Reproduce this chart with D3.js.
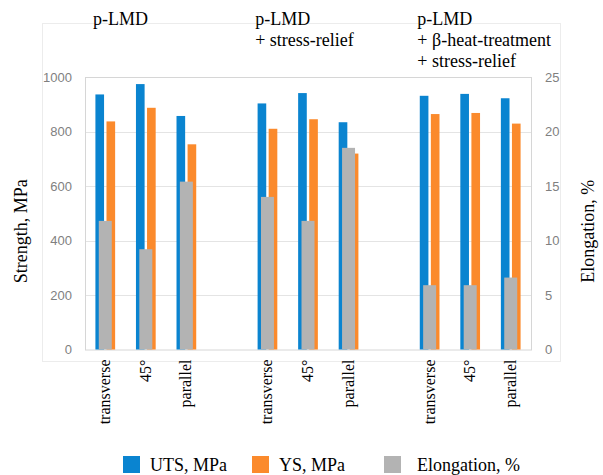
<!DOCTYPE html>
<html>
<head>
<meta charset="utf-8">
<script src="https://cdnjs.cloudflare.com/ajax/libs/d3/7.8.5/d3.min.js"></script>
</head>
<body style="margin:0">
<div id="chart"></div>
<script>
// ---- data ----
var directions = ["transverse", "45°", "parallel"];
var groupTitles = [
  ["p-LMD"],
  ["p-LMD", "+ stress-relief"],
  ["p-LMD", "+ β-heat-treatment", "+ stress-relief"]
];
var uts   = [936, 974, 857, 903, 941, 834, 931, 938, 922];
var ys    = [837, 887, 753, 810, 845, 719, 864, 868, 829];
var elong = [11.8, 9.2, 15.4, 14.0, 11.8, 18.5, 5.9, 5.9, 6.6];
var strengthTicks = [0, 200, 400, 600, 800, 1000];
var elongTicks = [0, 5, 10, 15, 20, 25];
var legendItems = ["UTS, MPa", "YS, MPa", "Elongation, %"];
var colors = ["#0a84d0", "#fb8a2c", "#b3b3b3"];

// ---- layout ----
var W = 603, H = 475;
var plot = { left: 85, right: 531, top: 77, bottom: 349.5 };

var svg = d3.select("#chart").append("svg")
  .attr("width", W).attr("height", H)
  .attr("font-family", "Liberation Serif");

// slots: 3 groups of 3 with one empty slot between groups
var rows = [];
groupTitles.forEach(function (t, g) {
  directions.forEach(function (d, k) {
    var i = g * 3 + k;
    rows.push({ slot: g * 4 + k, group: g, name: d, uts: uts[i], ys: ys[i], el: elong[i] });
  });
});
var nSlots = groupTitles.length * 4 - 1;

var x = d3.scaleBand().domain(d3.range(nSlots)).range([plot.left, plot.right]);
var xs = d3.scaleBand().domain(["uts", "ys"]).range([0, x.bandwidth()])
  .paddingInner(0.22).paddingOuter(0.94);
var yL = d3.scaleLinear().domain([0, 1000]).range([plot.bottom, plot.top]);
var yR = d3.scaleLinear().domain([0, 25]).range([plot.bottom, plot.top]);

// outer chart frame (very faint)
svg.append("rect")
  .attr("x", 42.5).attr("y", 23.5).attr("width", 518).attr("height", 338)
  .attr("fill", "none").attr("stroke", "#ececec");

// gridlines
svg.append("g").selectAll("line").data(strengthTicks.slice(1, -1)).join("line")
  .attr("x1", plot.left).attr("x2", plot.right)
  .attr("y1", function (d) { return Math.round(yL(d)) + 0.5; })
  .attr("y2", function (d) { return Math.round(yL(d)) + 0.5; })
  .attr("stroke", "#e4e4e4");

// plot frame
svg.append("rect")
  .attr("x", plot.left + 0.5).attr("y", plot.top + 0.5)
  .attr("width", plot.right - plot.left).attr("height", plot.bottom - plot.top)
  .attr("fill", "none").attr("stroke", "#d6d6d6");

// bars
var bar = svg.append("g").selectAll("g").data(rows).join("g")
  .attr("transform", function (d) { return "translate(" + x(d.slot) + ",0)"; });

bar.append("rect")
  .attr("x", xs("uts")).attr("width", xs.bandwidth())
  .attr("y", function (d) { return yL(d.uts); })
  .attr("height", function (d) { return yL(0) - yL(d.uts); })
  .attr("fill", colors[0]);

bar.append("rect")
  .attr("x", xs("ys")).attr("width", xs.bandwidth())
  .attr("y", function (d) { return yL(d.ys); })
  .attr("height", function (d) { return yL(0) - yL(d.ys); })
  .attr("fill", colors[1]);

var gw = x.bandwidth() * 0.32;
bar.append("rect")
  .attr("x", x.bandwidth() / 2 - gw / 2).attr("width", gw)
  .attr("y", function (d) { return yR(d.el); })
  .attr("height", function (d) { return yR(0) - yR(d.el); })
  .attr("fill", colors[2]);

// axes
function styleAxis(g) {
  g.attr("font-family", "Liberation Sans").attr("font-size", 13);
  g.select(".domain").remove();
  g.selectAll(".tick text").attr("fill", "#7f7f7f");
}
svg.append("g").attr("transform", "translate(" + (plot.left - 13) + ",0)")
  .call(d3.axisLeft(yL).tickValues(strengthTicks).tickFormat(d3.format("d")).tickSize(0).tickPadding(0))
  .call(styleAxis);

svg.append("g").attr("transform", "translate(" + (plot.right + 14) + ",0)")
  .call(d3.axisRight(yR).tickValues(elongTicks).tickFormat(d3.format("d")).tickSize(0).tickPadding(0))
  .call(styleAxis);

// category labels, rotated
svg.append("g").selectAll("text").data(rows).join("text")
  .attr("transform", function (d) {
    return "translate(" + (x(d.slot) + x.bandwidth() / 2 + 5) + "," + (plot.bottom + 10) + ") rotate(-90)";
  })
  .attr("text-anchor", "end")
  .attr("font-family", "Liberation Serif").attr("font-size", 16)
  .text(function (d) { return d.name; });

// axis titles
svg.append("text")
  .attr("transform", "translate(27," + ((plot.top + plot.bottom) / 2 + 18) + ") rotate(-90)")
  .attr("text-anchor", "middle")
  .attr("font-family", "Liberation Serif").attr("font-size", 18)
  .text("Strength,  MPa");

svg.append("text")
  .attr("transform", "translate(594," + ((plot.top + plot.bottom) / 2 + 18) + ") rotate(-90)")
  .attr("text-anchor", "middle")
  .attr("font-family", "Liberation Serif").attr("font-size", 18)
  .text("Elongation,  %");

// group titles
groupTitles.forEach(function (lines, g) {
  svg.append("text")
    .attr("x", x(g * 4) + 8).attr("y", 25)
    .attr("font-family", "Liberation Serif").attr("font-size", 18)
    .selectAll("tspan").data(lines).join("tspan")
    .attr("x", x(g * 4) + 8)
    .attr("dy", function (d, i) { return i === 0 ? 0 : 21; })
    .text(function (d) { return d; });
});

// legend
var legendX = [123, 252, 384];
var lg = svg.append("g").selectAll("g").data(legendItems).join("g")
  .attr("transform", function (d, i) { return "translate(" + legendX[i] + ",456)"; });
lg.append("rect").attr("width", 17).attr("height", 17)
  .attr("fill", function (d, i) { return colors[i]; });
lg.append("text")
  .attr("x", function (d, i) { return i === 2 ? 33 : 27; }).attr("y", 15)
  .attr("font-family", "Liberation Serif").attr("font-size", 18)
  .text(function (d) { return d; });
</script>
</body>
</html>
